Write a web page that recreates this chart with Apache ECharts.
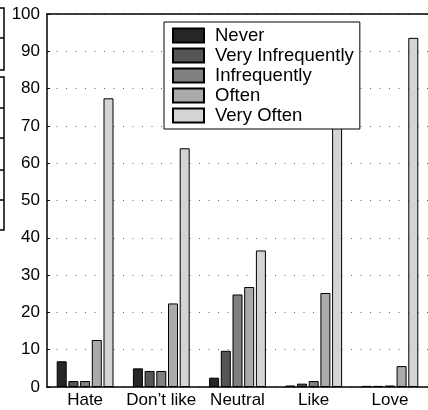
<!DOCTYPE html>
<html>
<head>
<meta charset="utf-8">
<script src="https://cdn.jsdelivr.net/npm/echarts@6/dist/echarts.min.js"></script>
<style>html,body{margin:0;padding:0;background:#fff;}#c{width:428px;height:410px;}</style>
</head>
<body>
<div id="c"></div>
<script>
const categories = ["Hate", "Don\u2019t like", "Neutral", "Like", "Love"];
const seriesNames = ["Never", "Very Infrequently", "Infrequently", "Often", "Very Often"];
const never = [6.9, 5.0, 2.5, 0.4, 0.3];
const veryInfrequently = [1.6, 4.3, 9.7, 0.9, 0.3];
const infrequently = [1.6, 4.3, 24.8, 1.6, 0.4];
const often = [12.6, 22.4, 26.8, 25.2, 5.6];
const veryOften = [77.4, 64.0, 36.6, 71.9, 93.6];
const yTicks = [0, 10, 20, 30, 40, 50, 60, 70, 80, 90, 100];

const values = [never, veryInfrequently, infrequently, often, veryOften];
const colors = ["#262626", "#555555", "#808080", "#aaaaaa", "#d4d4d4"];
const FONT = "Liberation Sans";

const chart = echarts.init(document.getElementById('c'), null, {renderer: 'canvas'});
chart.setOption({
  animation: false,
  backgroundColor: '#fff',
  textStyle: {fontFamily: FONT},
  grid: {left: 47, top: 14, width: 388, height: 373, containLabel: false},
  legend: {
    orient: 'vertical',
    left: 164, top: 22,
    padding: [4, 6, 4, 8],
    backgroundColor: '#fff',
    borderColor: '#000', borderWidth: 1,
    itemWidth: 31, itemHeight: 14, itemGap: 1,
    icon: 'rect',
    data: seriesNames,
    textStyle: {fontFamily: FONT, fontSize: 18.5, color: '#000', lineHeight: 17, padding: [0, 0, 0, 6]}
  },
  xAxis: [{
    type: 'category', data: categories, position: 'bottom',
    axisLine: {lineStyle: {color: '#000', width: 1.5}},
    axisTick: {inside: true, alignWithLabel: true, length: 3, lineStyle: {color: '#000'}},
    axisLabel: {color: '#000', fontSize: 17, margin: 5, interval: 0, fontFamily: FONT}
  }, {
    type: 'category', data: categories, position: 'top',
    axisLine: {lineStyle: {color: '#000', width: 1.5}},
    axisTick: {inside: true, alignWithLabel: true, length: 3, lineStyle: {color: '#000'}},
    axisLabel: {show: false}
  }],
  yAxis: {
    type: 'value', min: 0, max: 100, interval: 10,
    axisLine: {show: true, lineStyle: {color: '#000', width: 1.5}},
    axisTick: {show: true, inside: true, length: 3, lineStyle: {color: '#000'}},
    axisLabel: {color: '#000', fontSize: 17, margin: 7, fontFamily: FONT,
      formatter: v => yTicks.indexOf(v) >= 0 ? String(v) : ''},
    splitLine: {show: true, lineStyle: {color: '#666', width: 1, type: [1, 8.5]}}
  },
  series: seriesNames.map((name, i) => ({
    name: name, type: 'bar', data: values[i],
    barWidth: 10, barGap: '17%',
    itemStyle: {color: colors[i], borderColor: '#000', borderWidth: 1}
  })),
  graphic: [{
    type: 'polyline', shape: {points: [[0, 8], [4, 8], [4, 70], [0, 70]]},
    style: {stroke: '#000', lineWidth: 1.5, fill: null}
  }, {
    type: 'line', shape: {x1: 0, y1: 38, x2: 4, y2: 38}, style: {stroke: '#000', lineWidth: 1.5}
  }, {
    type: 'polyline', shape: {points: [[0, 77], [4, 77], [4, 230], [0, 230]]},
    style: {stroke: '#000', lineWidth: 1.5, fill: null}
  }, {
    type: 'line', shape: {x1: 0, y1: 108, x2: 4, y2: 108}, style: {stroke: '#000', lineWidth: 1.5}
  }, {
    type: 'line', shape: {x1: 0, y1: 138, x2: 4, y2: 138}, style: {stroke: '#000', lineWidth: 1.5}
  }, {
    type: 'line', shape: {x1: 0, y1: 170, x2: 4, y2: 170}, style: {stroke: '#000', lineWidth: 1.5}
  }, {
    type: 'line', shape: {x1: 0, y1: 200, x2: 4, y2: 200}, style: {stroke: '#000', lineWidth: 1.5}
  }]
});
</script>
</body>
</html>
